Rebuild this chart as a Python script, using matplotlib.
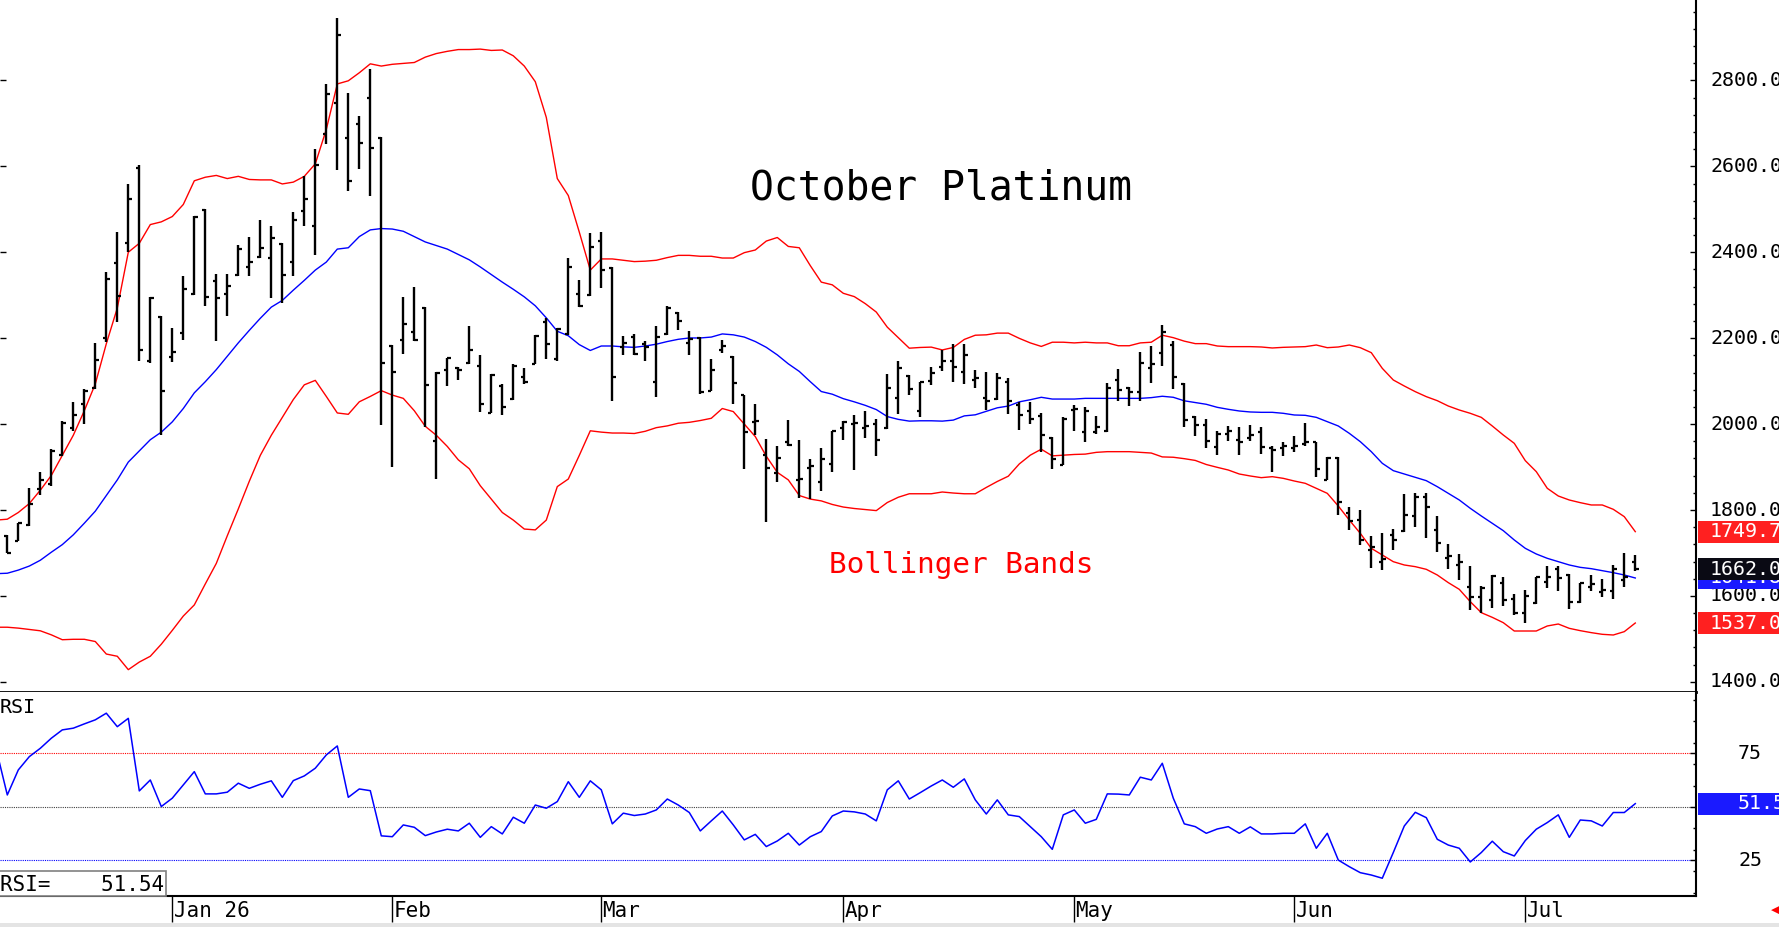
import numpy as np
import matplotlib
matplotlib.use("Agg")
import matplotlib.pyplot as plt
from matplotlib.patches import Rectangle
from matplotlib.ticker import MultipleLocator, FixedLocator
from matplotlib.transforms import blended_transform_factory

# ---------------- data (daily bars, Dec 10 2025 .. Jul 16 2026) ----------------
opens = [1740, 1727, 1766, 1849, 1860, 1927, 1990, 2047, 2083, 2200,
         2374, 2421, 2597, 2146, 2249, 2156, 2213, 2303, 2499, 2334,
         2304, 2348, 2366, 2390, 2387, 2419, 2377, 2496, 2462, 2676,
         2748, 2667, 2698, 2759, 2665, 2182, 2195, 2215, 2270, 1960,
         2125, 2130, 2143, 2136, 2027, 2088, 2059, 2109, 2140, 2237,
         2151, 2210, 2304, 2301, 2426, 2364, 2180, 2203, 2187, 2099,
         2210, 2258, 2188, 2200, 2078, 2172, 2156, 2068, 2005, 1929,
         1886, 1958, 1870, 1897, 1865, 1907, 1990, 2000, 1990, 2001,
         1991, 2062, 2111, 2030, 2101, 2132, 2148, 2121, 2103, 2060,
         2058, 2098, 2044, 2030, 2019, 1967, 1906, 2032, 1981, 1981,
         1985, 2103, 2083, 2075, 2130, 2165, 2185, 2093, 2016, 1997,
         1946, 1978, 1962, 1968, 1982, 1944, 1945, 1944, 1954, 1959,
         1871, 1920, 1792, 1777, 1708, 1680, 1742, 1751, 1785, 1831,
         1754, 1688, 1673, 1620, 1598, 1590, 1629, 1594, 1560, 1584,
         1633, 1662, 1649, 1587, 1622, 1610, 1612, 1638, 1680]
highs = [1743, 1771, 1852, 1888, 1943, 2007, 2052, 2081, 2189, 2355,
         2447, 2558, 2603, 2295, 2251, 2223, 2346, 2485, 2502, 2350,
         2349, 2418, 2436, 2476, 2462, 2421, 2495, 2577, 2641, 2793,
         2946, 2772, 2717, 2826, 2668, 2185, 2296, 2319, 2272, 2122,
         2154, 2133, 2229, 2161, 2116, 2094, 2140, 2130, 2208, 2247,
         2224, 2387, 2335, 2444, 2447, 2366, 2206, 2210, 2194, 2229,
         2275, 2260, 2216, 2203, 2151, 2195, 2159, 2068, 2047, 1966,
         1950, 2010, 1964, 1919, 1945, 1984, 2007, 2022, 2030, 2011,
         2116, 2146, 2114, 2099, 2134, 2173, 2187, 2187, 2125, 2122,
         2120, 2107, 2052, 2052, 2027, 1970, 2016, 2044, 2040, 2019,
         2095, 2128, 2087, 2169, 2181, 2230, 2193, 2095, 2018, 2013,
         1985, 1995, 1993, 1998, 1993, 1948, 1959, 1972, 2003, 1959,
         1923, 1923, 1808, 1799, 1740, 1746, 1755, 1837, 1840, 1839,
         1786, 1722, 1698, 1670, 1623, 1649, 1643, 1605, 1615, 1645,
         1670, 1670, 1651, 1631, 1649, 1639, 1672, 1699, 1695]
lows = [1699, 1727, 1763, 1836, 1857, 1925, 1984, 2000, 2081, 2192,
        2237, 2400, 2148, 2143, 1974, 2145, 2195, 2301, 2275, 2194,
        2252, 2346, 2346, 2387, 2294, 2283, 2346, 2462, 2393, 2653,
        2592, 2542, 2594, 2530, 1997, 1901, 2164, 2194, 1993, 1872,
        2088, 2102, 2140, 2029, 2026, 2021, 2057, 2094, 2140, 2151,
        2148, 2208, 2272, 2299, 2317, 2054, 2161, 2161, 2148, 2064,
        2208, 2220, 2161, 2071, 2078, 2166, 2047, 1896, 1974, 1773,
        1865, 1950, 1829, 1825, 1844, 1888, 1964, 1893, 1967, 1926,
        1989, 2024, 2068, 2016, 2091, 2124, 2099, 2093, 2084, 2034,
        2057, 2024, 1987, 2001, 1936, 1895, 1905, 1983, 1959, 1978,
        1982, 2054, 2042, 2054, 2095, 2136, 2081, 1993, 1973, 1944,
        1928, 1960, 1929, 1961, 1930, 1889, 1926, 1934, 1948, 1878,
        1870, 1788, 1754, 1719, 1664, 1660, 1707, 1750, 1761, 1736,
        1703, 1662, 1637, 1567, 1560, 1573, 1577, 1556, 1536, 1581,
        1618, 1612, 1569, 1584, 1612, 1597, 1592, 1620, 1657]
closes = [1701, 1769, 1815, 1870, 1938, 2002, 2021, 2078, 2150, 2338,
          2299, 2523, 2172, 2293, 2078, 2169, 2315, 2483, 2296, 2293,
          2322, 2407, 2377, 2411, 2434, 2348, 2475, 2523, 2603, 2769,
          2907, 2566, 2655, 2644, 2143, 2122, 2232, 2197, 2091, 2120,
          2153, 2125, 2172, 2047, 2114, 2041, 2135, 2099, 2206, 2187,
          2222, 2366, 2275, 2413, 2359, 2109, 2190, 2164, 2179, 2204,
          2270, 2241, 2198, 2075, 2125, 2183, 2096, 1981, 2008, 1898,
          1922, 1952, 1872, 1903, 1919, 1984, 2005, 2003, 1996, 1964,
          2085, 2130, 2081, 2097, 2120, 2148, 2132, 2162, 2108, 2055,
          2107, 2054, 2021, 2013, 1975, 1918, 2013, 2036, 2030, 1993,
          2083, 2079, 2075, 2143, 2140, 2215, 2109, 2009, 1997, 1960,
          1977, 1983, 1958, 1975, 1947, 1940, 1950, 1950, 1959, 1895,
          1920, 1818, 1775, 1730, 1714, 1685, 1730, 1788, 1831, 1808,
          1724, 1694, 1679, 1598, 1618, 1646, 1591, 1560, 1600, 1643,
          1645, 1641, 1587, 1629, 1628, 1614, 1662, 1644, 1662.0]

# indicator series start one bar earlier (index -1) than the price bars
upper = [1776.6, 1778.7, 1794.3, 1815.1, 1846.2, 1880.5, 1927.3, 1974.1, 2031.2, 2093.6, 2187.1,
         2270.3, 2400.2, 2421.0, 2464.6, 2470.9, 2483.3, 2511.4, 2566.5, 2574.8, 2579.0,
         2571.7, 2576.9, 2569.6, 2568.6, 2568.6, 2559.2, 2563.4, 2576.9, 2606.0, 2686.0,
         2792.0, 2799.3, 2818.0, 2838.8, 2833.6, 2837.7, 2839.8, 2841.9, 2854.4, 2862.7,
         2867.9, 2872.0, 2872.0, 2873.1, 2870.0, 2871.0, 2857.5, 2833.6, 2797.2, 2714.1,
         2571.7, 2532.2, 2447.0, 2358.6, 2384.6, 2384.6, 2381.5, 2378.4, 2379.4, 2381.5,
         2387.7, 2392.9, 2392.9, 2390.8, 2390.8, 2386.7, 2386.7, 2399.2, 2405.4, 2426.2,
         2434.5, 2413.7, 2410.6, 2369.0, 2330.6, 2324.3, 2304.6, 2296.9, 2280.5, 2260.9,
         2225.8, 2201.3, 2176.8, 2178.5, 2179.3, 2172.7, 2178.5, 2197.2, 2207.0, 2207.9,
         2211.9, 2211.9, 2199.7, 2189.1, 2180.9, 2190.7, 2190.7, 2189.1, 2190.7, 2189.1,
         2189.1, 2182.5, 2182.5, 2189.1, 2190.7, 2207.0, 2201.3, 2193.2, 2187.4, 2187.4,
         2181.9, 2180.4, 2180.4, 2180.4, 2179.6, 2177.3, 2178.8, 2179.6, 2180.4, 2184.2,
         2178.0, 2179.6, 2184.2, 2178.0, 2166.4, 2129.9, 2102.8, 2088.8, 2075.6, 2064.0,
         2054.6, 2042.2, 2032.9, 2025.2, 2015.8, 1995.7, 1974.7, 1955.3, 1915.0, 1889.4,
         1850.6, 1832.7, 1823.4, 1817.2, 1811.8, 1811.8, 1801.7, 1784.6, 1749.7]
middle = [1651.9, 1652.9, 1660.2, 1669.6, 1683.1, 1701.8, 1719.5, 1742.3, 1769.3, 1797.4, 1833.8,
          1870.2, 1911.7, 1937.7, 1963.7, 1981.4, 2005.3, 2036.4, 2072.8, 2098.8, 2126.9,
          2158.0, 2189.2, 2218.3, 2246.4, 2272.4, 2288.0, 2311.9, 2334.7, 2358.6, 2377.3,
          2407.5, 2410.6, 2436.6, 2452.2, 2455.3, 2454.2, 2449.0, 2436.6, 2424.1, 2415.8,
          2407.5, 2395.0, 2382.5, 2365.9, 2348.2, 2330.6, 2313.9, 2296.3, 2275.5, 2247.4,
          2216.2, 2205.8, 2185.1, 2171.5, 2181.9, 2181.9, 2179.9, 2178.8, 2181.9, 2186.1,
          2192.3, 2197.5, 2200.6, 2200.6, 2202.7, 2210.0, 2207.9, 2202.7, 2192.3, 2178.8,
          2161.2, 2140.4, 2122.7, 2098.8, 2075.9, 2069.7, 2059.3, 2051.9, 2043.7, 2033.9,
          2017.6, 2011.1, 2007.0, 2007.8, 2007.8, 2007.0, 2009.4, 2019.2, 2021.7, 2029.8,
          2038.0, 2042.1, 2051.9, 2056.8, 2062.5, 2058.4, 2058.4, 2058.4, 2060.0, 2060.0,
          2060.0, 2060.0, 2060.0, 2060.0, 2061.7, 2064.9, 2062.5, 2054.3, 2050.2, 2046.2,
          2039.1, 2034.5, 2030.6, 2028.3, 2027.5, 2027.5, 2025.2, 2021.3, 2020.5, 2015.8,
          2005.8, 1995.7, 1978.6, 1959.2, 1935.9, 1908.8, 1891.7, 1883.9, 1876.2, 1868.4,
          1854.4, 1838.9, 1823.4, 1804.0, 1786.2, 1769.1, 1752.0, 1730.3, 1710.9, 1697.7,
          1687.6, 1679.8, 1672.1, 1666.6, 1663.5, 1658.9, 1654.2, 1648.8, 1641.8]
lower = [1527.2, 1527.2, 1525.1, 1522.0, 1518.9, 1509.5, 1498.1, 1499.1, 1499.1, 1493.9, 1464.8,
         1459.6, 1428.4, 1446.1, 1459.6, 1487.7, 1519.9, 1553.2, 1579.1, 1628.0, 1675.8,
         1740.2, 1802.6, 1867.0, 1927.3, 1974.1, 2015.7, 2057.2, 2091.5, 2101.9, 2064.5,
         2026.0, 2022.9, 2052.0, 2064.5, 2078.0, 2067.6, 2060.0, 2031.2, 1994.9, 1974.1,
         1948.1, 1916.9, 1896.1, 1856.6, 1825.5, 1794.3, 1776.6, 1755.8, 1753.8, 1776.6,
         1854.6, 1872.2, 1927.3, 1984.5, 1981.4, 1979.3, 1979.3, 1978.2, 1983.4, 1991.8,
         1995.9, 2002.1, 2004.2, 2008.4, 2013.6, 2036.4, 2029.2, 2000.1, 1971.0, 1925.2,
         1887.8, 1870.2, 1833.8, 1825.5, 1821.3, 1813.0, 1807.0, 1803.6, 1801.2, 1798.7,
         1817.5, 1829.8, 1837.9, 1837.9, 1837.9, 1842.0, 1839.6, 1837.9, 1837.9, 1852.6,
         1866.5, 1878.8, 1907.3, 1927.8, 1941.6, 1926.1, 1927.8, 1929.4, 1930.2, 1934.3,
         1935.9, 1935.9, 1935.9, 1934.3, 1932.7, 1923.7, 1922.9, 1919.6, 1915.5, 1906.0,
         1899.4, 1893.2, 1883.9, 1879.3, 1875.4, 1877.7, 1873.8, 1867.6, 1862.2, 1850.6,
         1838.9, 1809.4, 1776.8, 1745.8, 1710.9, 1695.4, 1679.8, 1672.1, 1668.2, 1662.0,
         1648.8, 1631.0, 1615.4, 1586.7, 1561.1, 1550.2, 1537.8, 1518.4, 1518.4, 1518.4,
         1530.1, 1534.7, 1524.6, 1519.2, 1514.6, 1510.7, 1509.1, 1516.9, 1537.0]
rsi = [76.8, 55.6, 67.3, 73.5, 77.4, 82.1, 86.0, 86.8, 88.8, 90.7, 93.8,
       87.5, 91.4, 57.5, 62.6, 50.2, 54.1, 60.3, 66.5, 56.1, 56.1,
       56.9, 61.1, 58.7, 60.6, 62.2, 54.5, 62.3, 64.5, 68.1, 74.3,
       78.5, 54.5, 58.4, 57.6, 36.5, 36.1, 41.6, 40.5, 36.6, 38.3,
       39.6, 38.8, 42.4, 35.8, 40.8, 37.4, 45.2, 42.4, 50.9, 49.4,
       52.5, 61.8, 54.5, 62.2, 58.0, 42.1, 47.1, 46.0, 46.7, 48.6,
       53.7, 50.9, 47.4, 38.8, 43.5, 48.1, 41.6, 34.6, 37.2, 31.5,
       34.1, 37.7, 32.2, 36.1, 38.5, 45.8, 48.1, 47.7, 46.7, 43.5,
       58.0, 62.2, 53.7, 56.7, 59.8, 62.6, 59.2, 63.1, 53.3, 46.7,
       53.3, 46.3, 45.5, 40.8, 36.1, 30.2, 46.3, 48.6, 42.4, 44.2,
       56.1, 56.0, 55.6, 63.9, 62.6, 70.4, 54.1, 42.1, 40.8, 37.7,
       39.7, 40.8, 37.7, 40.7, 37.4, 37.4, 37.7, 37.7, 42.1, 30.7,
       37.7, 25.2, 22.1, 19.3, 18.2, 16.7, 28.7, 41.1, 47.5, 45.0,
       34.9, 32.2, 30.7, 24.3, 28.7, 34.0, 29.1, 27.1, 34.3, 39.6,
       42.7, 46.3, 35.8, 43.9, 43.5, 41.1, 47.4, 47.4, 51.54]

month_labels = ["Jan 26", "Feb", "Mar", "Apr", "May", "Jun", "Jul"]
month_first_bar = [15, 35, 54, 76, 97, 117, 138]
price_ticks = [1400, 1600, 1800, 2000, 2200, 2400, 2600, 2800]
rsi_levels = [75, 50, 25]
rsi_tick_labels = [75, 25]
title = "October Platinum"
band_label = "Bollinger Bands"

# ---------------- figure geometry (pixels) ----------------
W, H, DPI = 1779, 927, 100
PLOT_R = 1696
PRICE_BOTTOM = 692
RSI_BOTTOM = 896
MONO = "DejaVu Sans Mono"


def fx(px):
    return px / W


def fy(py):
    return 1 - py / H


fig = plt.figure(figsize=(W / DPI, H / DPI), dpi=DPI, facecolor="white")
ax_p = fig.add_axes([0, fy(PRICE_BOTTOM), fx(PLOT_R), PRICE_BOTTOM / H])
ax_r = fig.add_axes([0, fy(RSI_BOTTOM), fx(PLOT_R), (RSI_BOTTOM - PRICE_BOTTOM) / H],
                    sharex=ax_p)

n = len(closes)
x = np.arange(n)
xi = np.arange(-1, n)

# ---------------- price panel ----------------
bars = ax_p.vlines(x, lows, highs, color="black", lw=1.7, zorder=3)
bars.set_capstyle("butt")
o_t = ax_p.hlines(opens, x - 0.33, x, color="black", lw=1.6, zorder=3)
c_t = ax_p.hlines(closes, x, x + 0.33, color="black", lw=1.6, zorder=3)
o_t.set_capstyle("butt")
c_t.set_capstyle("butt")

ax_p.plot(xi, upper, color="#ff0000", lw=1.0, zorder=2)
ax_p.plot(xi, lower, color="#ff0000", lw=1.0, zorder=2)
ax_p.plot(xi, middle, color="#0000ff", lw=1.0, zorder=2)

ax_p.set_xlim(-0.664, 153.52)
ax_p.set_ylim(1376.4, 2987.4)

for s in ("left", "top"):
    ax_p.spines[s].set_visible(False)
ax_p.spines["right"].set_linewidth(1.5)
ax_p.spines["bottom"].set_linewidth(2.0)

ax_p.yaxis.set_major_locator(FixedLocator(price_ticks))
ax_p.yaxis.set_minor_locator(MultipleLocator(40))
ax_p.tick_params(axis="y", which="major", left=True, right=True, direction="in",
                 length=4, width=1, labelleft=False, labelright=False)
ax_p.tick_params(axis="y", which="minor", left=False, right=True, direction="in",
                 length=2.5, width=1)
ax_p.tick_params(axis="x", which="both", bottom=False, labelbottom=False)

bt_p = blended_transform_factory(fig.transFigure, ax_p.transData)
for t in price_ticks:
    ax_p.text(fx(1710), t, f"{t:.1f}", transform=bt_p, family=MONO, size=14.4,
              va="center", ha="left", color="black", clip_on=False)

# value boxes on the right
p_per_px = (2987.4 - 1376.4) / PRICE_BOTTOM


def value_box(ax, trans, val, face, per_px, text_x, zorder, h_px=22, fmt="{:.1f}"):
    h = h_px * per_px
    rect = Rectangle((fx(PLOT_R + 1.5), val - h / 2), 1 - fx(PLOT_R + 1.5), h,
                     transform=trans, facecolor=face, edgecolor="none",
                     clip_on=False, zorder=zorder)
    ax.add_patch(rect)
    ax.text(fx(text_x), val, fmt.format(val), transform=trans, family=MONO,
            size=14.4, va="center", ha="left", color="white", clip_on=False,
            zorder=zorder + 0.5)


value_box(ax_p, bt_p, upper[-1], "#ff2020", p_per_px, 1710, 10)
value_box(ax_p, bt_p, middle[-1], "#1a1aff", p_per_px, 1710, 11)
value_box(ax_p, bt_p, closes[-1], "#0a0a14", p_per_px, 1710, 12)
value_box(ax_p, bt_p, lower[-1], "#ff2020", p_per_px, 1710, 13)

# title and band label
fig.text(fx(750), fy(199), title, family=MONO, size=28.6, color="black",
         va="baseline", ha="left")
fig.text(fx(829), fy(573), band_label, family=MONO, size=21.2, color="#ff0000",
         va="baseline", ha="left")

# ---------------- RSI panel ----------------
ax_r.plot(xi, rsi, color="#0000ff", lw=1.1, zorder=3)
level_colors = {75: "#ff0000", 50: "#404040", 25: "#0000ff"}
for lv in rsi_levels:
    ax_r.axhline(lv, color=level_colors[lv], lw=0.8, ls=(0, (1, 1)), zorder=1)
ax_r.set_ylim(8.4, 103.7)
for s in ("left", "top"):
    ax_r.spines[s].set_visible(False)
ax_r.spines["right"].set_linewidth(1.5)
ax_r.spines["bottom"].set_linewidth(1.5)
ax_r.yaxis.set_major_locator(FixedLocator(rsi_levels))
ax_r.yaxis.set_minor_locator(MultipleLocator(10))
ax_r.tick_params(axis="y", which="major", left=False, right=True, direction="in",
                 length=4, width=1, labelleft=False, labelright=False)
ax_r.tick_params(axis="y", which="minor", left=False, right=True, direction="in",
                 length=2.5, width=1)

bt_r = blended_transform_factory(fig.transFigure, ax_r.transData)
for t in rsi_tick_labels:
    ax_r.text(fx(1738), t, f"{t}", transform=bt_r, family=MONO, size=14.4,
              va="center", ha="left", color="black", clip_on=False)
r_per_px = (103.7 - 8.4) / (RSI_BOTTOM - PRICE_BOTTOM)
value_box(ax_r, bt_r, rsi[-1], "#1a1aff", r_per_px, 1738, 10, fmt="{:.2f}")

fig.text(fx(0), fy(713), "RSI", family=MONO, size=14.4, va="baseline", ha="left")
fig.add_artist(Rectangle((fx(-2), fy(RSI_BOTTOM)), fx(168), (RSI_BOTTOM - 871) / H,
                         transform=fig.transFigure, facecolor="white",
                         edgecolor="#808080", lw=1.2, zorder=5))
fig.text(fx(0), fy(891), f"RSI={rsi[-1]:9.2f}", family=MONO, size=15,
         va="baseline", ha="left", zorder=6)

# month ticks and labels
ax_r.set_xticks(month_first_bar)
ax_r.tick_params(axis="x", which="major", direction="out", length=19, width=1,
                 bottom=True, labelbottom=False, color="black")
bt_x = blended_transform_factory(ax_r.transData, fig.transFigure)
for pos, lab in zip(month_first_bar, month_labels):
    ax_r.text(pos + 0.12, fy(917), lab, transform=bt_x, family=MONO, size=15,
              va="baseline", ha="left", clip_on=False)

# bottom strip and scroll marker
fig.add_artist(Rectangle((0, 0), 1, 4 / H, transform=fig.transFigure,
                         facecolor="#e4e4e4", edgecolor="none"))
fig.text(fx(1771), fy(910), "\u25C0", color="#ff0000", size=11, va="center",
         ha="left", family="DejaVu Sans")

fig.savefig("out.png", dpi=DPI, facecolor="white")
